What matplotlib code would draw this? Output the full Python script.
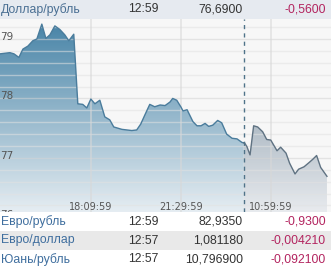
import matplotlib
matplotlib.use("Agg")
import matplotlib.pyplot as plt
import numpy as np
from matplotlib.patches import Rectangle, Polygon
from matplotlib.colors import LinearSegmentedColormap

# ---- data ----
minutes = [0, 22, 31, 42, 51, 62, 73, 82, 93, 102, 111, 122, 133, 144, 153, 164,
           173, 184, 193, 202, 211, 222, 233, 244, 253, 262, 271, 282, 293, 304,
           313, 322, 333, 344, 356, 367, 378, 384, 393, 402, 407, 416, 429, 438,
           447, 456, 464, 473, 484, 493, 504, 516, 527, 538, 544, 549, 556, 564,
           573, 584, 593, 602, 616, 624, 636, 644, 656, 664, 676, 687, 696, 704,
           713, 727]
rates = [78.75, 78.77, 78.75, 78.69, 78.83, 78.88, 78.97, 79.00, 79.25, 79.01,
         79.07, 79.22, 79.16, 79.07, 78.97, 79.08, 77.91, 77.90, 77.84, 77.99,
         77.91, 77.97, 77.69, 77.64, 77.52, 77.50, 77.48, 77.47, 77.46, 77.47,
         77.57, 77.72, 77.90, 77.86, 77.89, 77.88, 77.94, 78.00, 77.97, 77.86,
         77.79, 77.81, 77.61, 77.54, 77.54, 77.58, 77.53, 77.55, 77.63, 77.59,
         77.40, 77.33, 77.32, 77.26, 77.25, 77.19, 77.05, 77.54, 77.52, 77.44,
         77.31, 77.30, 77.12, 77.18, 77.08, 76.91, 76.73, 76.81, 76.85, 76.92,
         76.98, 77.04, 76.84, 76.69]
tick_minutes = [202, 402, 602]
tick_labels = ["18:09:59", "21:29:59", "10:59:59"]
session_break = 542
y_major = [76, 77, 78, 79]
y_min, y_max = 76.09, 79.336
x_max = 736

header = ["Доллар/рубль", "12:59", "76,6900", "-0,5600"]
row_names = ["Евро/рубль", "Евро/доллар", "Юань/рубль"]
row_times = ["12:59", "12:57", "12:57"]
row_values = ["82,9350", "1,081180", "10,796900"]
row_changes = ["-0,9300", "-0,004210", "-0,092100"]

W, H = 331, 270
fig = plt.figure(figsize=(W / 100, H / 100), dpi=100)
fig.patch.set_facecolor("white")

def fy(py):
    return 1 - py / H

# ---- chart ----
ax = fig.add_axes([0, fy(212), 1, (212 - 19) / H])
ax.set_facecolor("#f7f7f7")
ax.set_xlim(0, x_max)
ax.set_ylim(y_min, y_max)
for s in ax.spines.values():
    s.set_visible(False)
ax.set_xticks([])
ax.set_yticks([])

x = np.array(minutes, float)
y = np.array(rates, float)
vb = np.interp(session_break, x, y)

left = x <= session_break
xl = np.append(x[left], session_break)
yl = np.append(y[left], vb)
xr = np.insert(x[~left], 0, session_break)
yr = np.insert(y[~left], 0, vb)

def grad_fill(xs, ys, c_top, c_bot, z):
    verts = list(zip(xs, ys)) + [(xs[-1], y_min), (xs[0], y_min)]
    poly = Polygon(verts, closed=True, facecolor="none", edgecolor="none",
                   transform=ax.transData)
    ax.add_patch(poly)
    cmap = LinearSegmentedColormap.from_list("g", [c_top, c_bot])
    g = np.linspace(0, 1, 256).reshape(-1, 1)
    im = ax.imshow(g, extent=[0, x_max, y_min, y_max], aspect="auto",
                   cmap=cmap, origin="upper", zorder=z, interpolation="bicubic")
    im.set_clip_path(poly)

grad_fill(xl, yl, (0.27, 0.51, 0.65), (0.90, 0.93, 0.95), 1)
grad_fill(xr, yr, (0.43, 0.52, 0.59), (0.91, 0.92, 0.935), 1)

# grid
for v in np.arange(76.0, 79.4, 0.2):
    major = abs(v - round(v)) < 1e-6
    ax.axhline(v, color="#d4d4d4" if major else "#e2e2e2", lw=1.0,
               alpha=0.55, zorder=2)
for t in tick_minutes:
    ax.axvline(t, color="#d8d8d8", lw=1.3, alpha=0.6, zorder=2)

ax.plot(xl, yl, color="#4a7c9c", lw=1.0, zorder=3)
ax.plot(xr, yr, color="#5f7282", lw=1.0, zorder=3)
ax.axvline(session_break, color="#4f7389", lw=1.0, ls=(0, (3, 3)), zorder=4)

for v in y_major:
    ax.text(1, v + 0.035, f"{v}", ha="left", va="center", fontsize=7.5,
            color="#555555", family="DejaVu Sans", zorder=5, clip_on=True)
for t, lab in zip(tick_minutes, tick_labels):
    ax.text(t, (212 - 206.5) / 193, lab, transform=ax.get_xaxis_transform(),
            ha="center", va="center", fontsize=7, color="#555555",
            family="DejaVu Sans", zorder=5)

# ---- table ----
fig.patches.append(Rectangle((0, fy(19)), 1, 19 / H, transform=fig.transFigure,
                             facecolor="#e6eaf0", edgecolor="none", zorder=0))
fig.patches.append(Rectangle((0, fy(250)), 1, 19 / H, transform=fig.transFigure,
                             facecolor="#e9e9e9", edgecolor="none", zorder=0))

font = dict(family="Liberation Sans", fontsize=8.8, va="center")
def row(py, name, tm, val, chg, name_color):
    fig.text(0.5 / W, fy(py), name, ha="left", color=name_color, **font)
    fig.text(128 / W, fy(py), tm, ha="left", color="#333333", **font)
    fig.text(243 / W, fy(py), val, ha="right", color="#333333", **font)
    fig.text(326 / W, fy(py), chg, ha="right", color="#b3245f", **font)

row(9.5, *header, "#4a6f93")
ys = [222, 240.5, 259.5]
for py, n, t, v, c in zip(ys, row_names, row_times, row_values, row_changes):
    row(py, n, t, v, c, "#3f6e9e")

fig.savefig("out.png", dpi=100)
